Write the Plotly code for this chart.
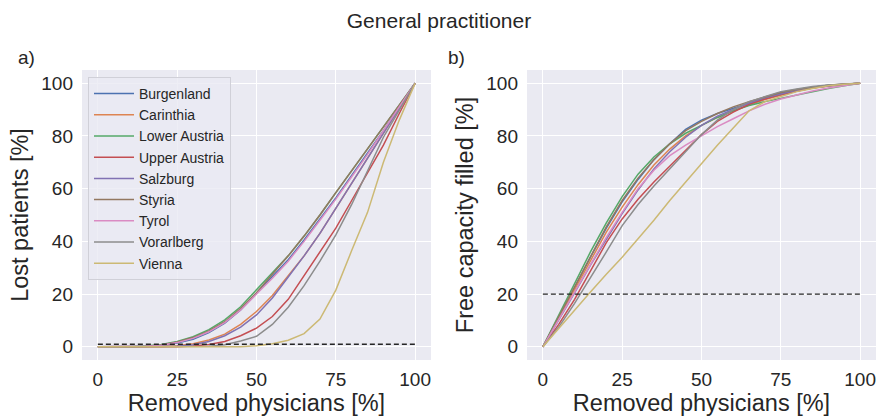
import plotly.graph_objects as go

# ---- data ----
regions = ["Burgenland", "Carinthia", "Lower Austria", "Upper Austria", "Salzburg",
           "Styria", "Tyrol", "Vorarlberg", "Vienna"]
colors = ["#4C72B0", "#DD8452", "#55A868", "#C44E52", "#8172B3",
          "#937860", "#DA8BC3", "#8C8C8C", "#CCB974"]

removed = [0, 5, 10, 15, 20, 25, 30, 35, 40, 45, 50, 55, 60, 65, 70, 75, 80, 85, 90, 95, 100]

lost_burgenland = [0, 0, 0, 0.1, 0.5, 1.4, 2.9, 5.4, 9.0, 14.0, 20.3, 26.5, 33.0, 40.5, 48.5, 56.5, 65.0, 73.5, 82.0, 91.0, 100]
lost_carinthia = [0, 0, 0, 0, 0.1, 0.4, 1.2, 2.6, 4.8, 8.5, 13.4, 19.5, 27.0, 34.5, 43.0, 52.5, 62.0, 71.5, 81.0, 90.5, 100]
lost_lower_austria = [0, 0, 0, 0.3, 0.9, 2.0, 3.8, 6.5, 10.2, 15.2, 21.6, 28.0, 34.5, 42.0, 50.0, 58.5, 66.8, 75.0, 83.5, 91.8, 100]
lost_upper_austria = [0, 0, 0, 0, 0, 0, 0.3, 0.9, 2.0, 4.2, 7.1, 11.5, 18.0, 27.0, 36.0, 45.0, 55.5, 66.0, 76.5, 88.5, 100]
lost_salzburg = [0, 0, 0, 0, 0, 0.2, 0.8, 2.0, 4.2, 7.5, 12.1, 18.5, 26.5, 34.5, 43.0, 52.5, 62.0, 71.5, 81.0, 90.5, 100]
lost_styria = [0, 0, 0, 0.2, 0.7, 1.8, 3.5, 6.0, 9.5, 14.5, 20.5, 27.5, 34.5, 42.0, 50.0, 58.5, 66.8, 75.0, 83.5, 91.8, 100]
lost_tyrol = [0, 0, 0, 0.2, 0.6, 1.6, 3.2, 5.7, 9.2, 14.0, 20.0, 26.0, 32.5, 40.0, 48.0, 56.0, 64.5, 73.0, 82.0, 91.0, 100]
lost_vorarlberg = [0, 0, 0, 0, 0, 0, 0, 0.2, 0.8, 2.2, 4.0, 8.5, 15.0, 23.2, 32.5, 42.5, 54.0, 67.0, 79.5, 89.8, 100]
lost_vienna = [0, 0, 0, 0, 0, 0, 0, 0, 0, 0, 0.4, 1.2, 2.5, 5.0, 10.5, 21.5, 36.5, 51.0, 70.0, 86.0, 100]

free_burgenland = [0, 11, 22.5, 34, 45, 55, 63.5, 71, 77, 82.5, 86, 88.5, 90.5, 92.5, 94.5, 96.3, 97.5, 98.5, 99.2, 99.7, 100]
free_carinthia = [0, 11, 22, 33, 43.5, 53, 61.5, 69, 75, 80, 84, 87, 89.5, 91.8, 93.8, 95.5, 97, 98.2, 99, 99.6, 100]
free_lower_austria = [0, 12, 24, 36, 47, 57, 65.5, 72, 77, 81, 84, 87, 89.5, 91.5, 93, 94.3, 95.5, 96.8, 98, 99, 100]
free_upper_austria = [0, 8.5, 18, 29, 39.5, 48.5, 56, 62.5, 68.5, 74.5, 80.5, 85.5, 89, 92, 94, 95.7, 97, 98.2, 99, 99.6, 100]
free_salzburg = [0, 10, 20.5, 31, 41, 50.5, 59.5, 67.5, 74, 79.5, 84, 87.5, 90, 92.5, 94.5, 96, 97.3, 98.3, 99, 99.6, 100]
free_styria = [0, 11.5, 23, 34.5, 45.5, 55.5, 64, 71, 77, 82, 85.5, 88.5, 91, 93, 94.8, 96.5, 97.6, 98.5, 99.2, 99.7, 100]
free_tyrol = [0, 10.5, 21, 31.5, 41.5, 51, 60, 67, 72.5, 76.5, 80, 83.5, 86.5, 89.5, 92, 94, 95.5, 97, 98.2, 99.2, 100]
free_vorarlberg = [0, 7.5, 16.5, 26, 36, 46, 54, 61, 67.5, 74, 80.5, 86, 90, 93, 95, 96.8, 97.8, 98.7, 99.3, 99.7, 100]
free_vienna = [0, 7, 14, 20.8, 27.5, 34, 41, 48, 55.5, 62.5, 69.5, 76.5, 83, 89.5, 93, 95, 96.8, 98, 99, 99.6, 100]

lost_series = [lost_burgenland, lost_carinthia, lost_lower_austria, lost_upper_austria, lost_salzburg,
               lost_styria, lost_tyrol, lost_vorarlberg, lost_vienna]
free_series = [free_burgenland, free_carinthia, free_lower_austria, free_upper_austria, free_salzburg,
               free_styria, free_tyrol, free_vorarlberg, free_vienna]

lost_threshold = 1
free_threshold = 20
x_ticks = [0, 25, 50, 75, 100]
y_ticks = [0, 20, 40, 60, 80, 100]

# ---- figure ----
W, H = 878, 416
FONT = "Liberation Sans, Arial, sans-serif"
TXT = "#262626"
LW = 1.5
fig = go.Figure()

for name, col, ys in zip(regions, colors, lost_series):
    fig.add_trace(go.Scatter(x=removed, y=ys, mode="lines", name=name, legendgroup=name,
                             line=dict(color=col, width=LW), xaxis="x", yaxis="y"))
for name, col, ys in zip(regions, colors, free_series):
    fig.add_trace(go.Scatter(x=removed, y=ys, mode="lines", name=name, legendgroup=name,
                             showlegend=False, line=dict(color=col, width=LW), xaxis="x2", yaxis="y2"))

fig.add_trace(go.Scatter(x=[removed[0], removed[-1]], y=[lost_threshold, lost_threshold], mode="lines",
                         showlegend=False, line=dict(color="#262626", width=1.4, dash="5px,3px"),
                         xaxis="x", yaxis="y"))
fig.add_trace(go.Scatter(x=[removed[0], removed[-1]], y=[free_threshold, free_threshold], mode="lines",
                         showlegend=False, line=dict(color="#262626", width=1.4, dash="5px,3px"),
                         xaxis="x2", yaxis="y2"))

ydom = [1 - 360 / H, 1 - 70 / H]
axis_common = dict(showgrid=True, gridcolor="white", gridwidth=1.3, zeroline=False, showline=False,
                   ticks="", tickfont=dict(family=FONT, size=19, color=TXT),
                   range=[-5, 105], fixedrange=True)
title_font = dict(family=FONT, size=23.5, color=TXT)

fig.update_layout(
    width=W, height=H,
    margin=dict(l=0, r=0, t=0, b=0),
    paper_bgcolor="white", plot_bgcolor="#EAEAF2",
    font=dict(family=FONT, color=TXT),
    title=dict(text="General practitioner", x=0.5, xanchor="center", y=1 - 21 / H, yanchor="middle",
               font=dict(family=FONT, size=21, color=TXT)),
    xaxis=dict(domain=[82 / W, 431 / W], tickvals=x_ticks, anchor="y",
               title=dict(text="Removed physicians [%]", font=title_font, standoff=0),
               ticklabelstandoff=6, **axis_common),
    yaxis=dict(domain=ydom, tickvals=y_ticks, anchor="x",
               title=dict(text="Lost patients [%]", font=title_font, standoff=6),
               ticklabelstandoff=8, **axis_common),
    xaxis2=dict(domain=[527 / W, 876 / W], tickvals=x_ticks, anchor="y2",
                title=dict(text="Removed physicians [%]", font=title_font, standoff=0),
                ticklabelstandoff=6, **axis_common),
    yaxis2=dict(domain=ydom, tickvals=y_ticks, anchor="x2",
                title=dict(text="Free capacity filled [%]", font=title_font, standoff=6),
                ticklabelstandoff=8, **axis_common),
    legend=dict(x=88 / W, y=1 - 77 / H, xanchor="left", yanchor="top",
                bgcolor="rgba(234,234,242,0.8)", bordercolor="#D0D0D8", borderwidth=1,
                font=dict(family=FONT, size=14, color=TXT), itemwidth=40,
                traceorder="normal", tracegroupgap=0),
    showlegend=True,
    annotations=[
        dict(text="a)", x=16 / W, y=1 - 57 / H, xref="paper", yref="paper", showarrow=False,
             xanchor="left", yanchor="middle", font=dict(family=FONT, size=19, color=TXT)),
        dict(text="b)", x=446 / W, y=1 - 57 / H, xref="paper", yref="paper", showarrow=False,
             xanchor="left", yanchor="middle", font=dict(family=FONT, size=19, color=TXT)),
    ],
)

fig.write_html("out.html", config={"displayModeBar": False},
               post_script="document.body.style.margin='0';document.body.style.overflow='hidden';")
